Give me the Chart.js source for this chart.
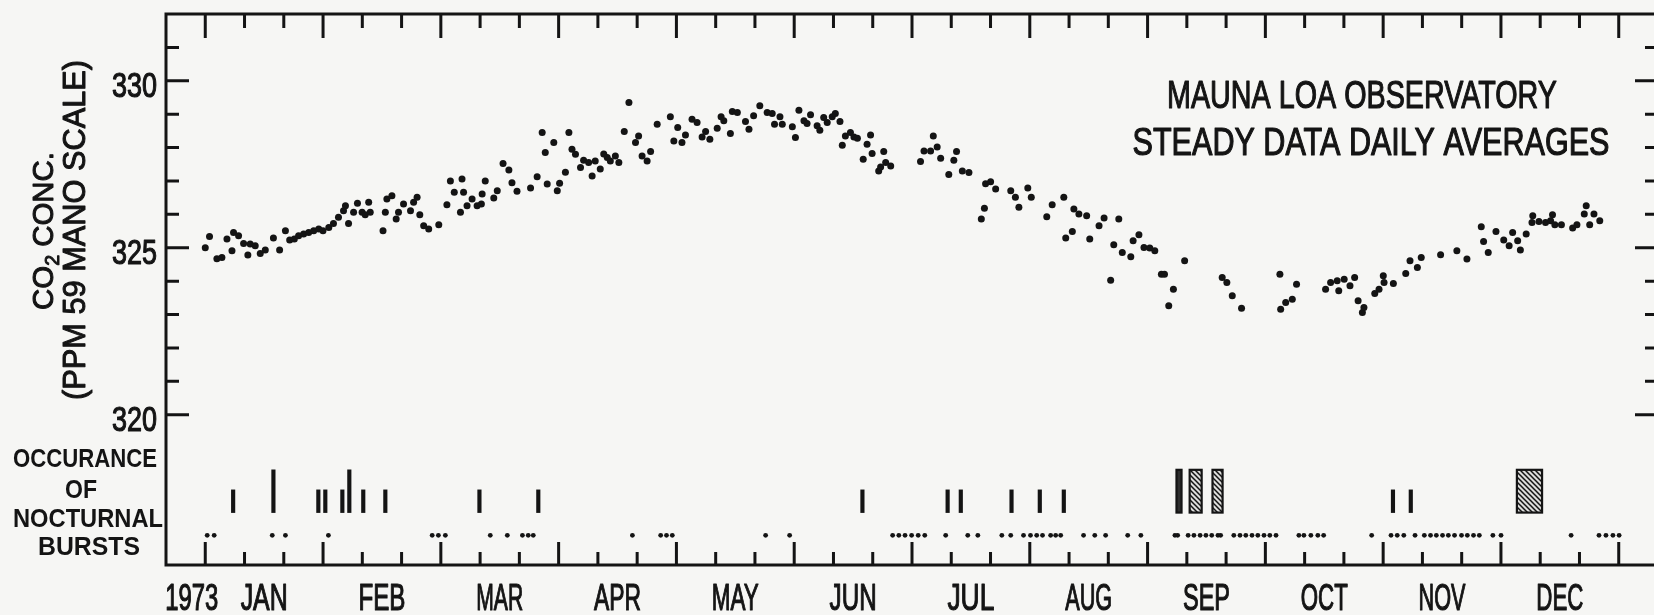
<!DOCTYPE html>
<html>
<head>
<meta charset="utf-8">
<title>Mauna Loa Observatory - steady data daily averages 1973</title>
<script src="https://cdn.jsdelivr.net/npm/chart.js@4.4.1/dist/chart.umd.min.js"></script>
<style>
  html, body { margin: 0; padding: 0; background: #f6f6f4; overflow: hidden; }
  canvas { display: block; }
</style>
</head>
<body>
<canvas id="co2-chart" width="1664" height="615"></canvas>
<script>
// ---- data (day of year, ppm) ----
const months = ["JAN", "FEB", "MAR", "APR", "MAY", "JUN", "JUL", "AUG", "SEP", "OCT", "NOV", "DEC"];
const yearLabel = "1973";
const yTickLabels = ["320", "325", "330"];
const titleLines = ["MAUNA LOA OBSERVATORY", "STEADY DATA DAILY AVERAGES"];
const burstLabel = ["OCCURANCE", "OF", "NOCTURNAL", "BURSTS"];

const obsDay = [
  0.0, 1.1, 3.0, 4.3, 5.6, 6.9, 7.3, 8.6, 9.9, 11.0, 11.6, 12.9, 14.2, 15.5, 17.6, 19.2,
  20.7, 21.8, 23.0, 24.1, 25.4, 26.7, 28.0, 29.3, 30.4, 31.9, 33.1, 34.4, 35.7, 36.2, 37.0, 38.3,
  39.3, 40.5, 41.3, 42.2, 42.6, 45.9, 46.5, 46.9, 48.2, 49.3, 49.9, 51.2, 53.0, 53.8, 54.7, 55.4,
  56.4, 57.7, 60.3, 62.4, 63.3, 64.3, 65.9, 66.3, 66.7, 67.6, 68.9, 70.2, 71.3, 71.5, 72.3, 74.5,
  75.4, 76.9, 78.4, 79.2, 80.5, 84.0, 85.7, 87.0, 87.8, 88.3, 90.0, 90.9, 91.5, 93.0, 93.9, 94.7,
  95.6, 96.9, 97.7, 99.0, 99.9, 100.7, 102.0, 102.9, 103.8, 104.6, 105.9, 106.8, 108.2, 109.4, 111.1, 111.9,
  112.8, 114.1, 115.0, 116.7, 120.1, 121.0, 122.0, 123.1, 124.0, 125.7, 127.0, 128.3, 129.2, 130.3, 132.2, 133.2,
  133.9, 135.6, 136.1, 137.4, 139.5, 140.4, 141.6, 143.2, 145.1, 146.4, 147.0, 148.4, 149.0, 151.6, 152.4, 153.3,
  154.6, 155.4, 156.3, 158.0, 158.7, 159.7, 160.6, 161.9, 162.7, 163.9, 164.5, 165.3, 166.6, 167.5, 168.4, 169.9,
  170.9, 171.8, 172.2, 173.9, 174.4, 175.2, 175.7, 177.0, 184.7, 185.6, 187.3, 188.0, 189.0, 189.9, 192.0, 193.3,
  194.0, 195.5, 197.2, 200.4, 201.2, 201.5, 202.8, 204.1, 208.0, 209.2, 210.1, 212.4, 213.3, 217.3, 218.7, 221.7,
  222.2, 223.9, 224.3, 225.6, 227.6, 228.4, 230.8, 232.1, 233.8, 234.6, 235.9, 236.8, 239.0, 239.6, 241.1, 242.4,
  243.9, 245.2, 246.9, 247.7, 248.8, 250.0, 252.9, 262.6, 263.8, 265.2, 267.6, 277.5, 277.7, 279.0, 280.7, 281.8,
  289.3, 290.6, 292.3, 292.7, 294.1, 295.6, 296.8, 297.7, 298.8, 299.2, 302.0, 303.1, 304.2, 304.4, 306.8, 310.0,
  311.1, 313.0, 314.0, 319.0, 323.2, 325.8, 329.5, 330.1, 331.3, 333.3, 335.3, 336.7, 337.6, 338.9, 339.6, 341.1,
  342.8, 342.6, 344.4, 346.1, 347.9, 347.4, 348.5, 350.2, 353.1, 354.2, 356.1, 356.6, 357.5, 358.6, 360.1
];
const co2 = [
  325.00, 325.34, 324.67, 324.71, 325.26, 324.91, 325.46, 325.36, 325.13, 324.78, 325.11, 325.06, 324.83, 324.93, 325.29, 324.93,
  325.51, 325.23, 325.26, 325.36, 325.41, 325.46, 325.51, 325.56, 325.51, 325.61, 325.73, 325.91, 326.11, 326.26, 325.73, 326.06,
  326.33, 326.06, 325.99, 326.36, 326.06, 325.51, 326.06, 326.46, 326.56, 325.86, 326.06, 326.31, 326.11, 326.36, 326.51, 325.99,
  325.66, 325.56, 325.69, 326.29, 327.00, 326.66, 326.06, 327.06, 326.66, 326.26, 326.46, 326.26, 326.31, 326.61, 327.00, 326.49,
  326.71, 327.52, 327.33, 326.95, 326.69, 326.79, 327.13, 328.45, 327.85, 326.91, 328.15, 326.71, 326.93, 327.26, 328.45, 327.95,
  327.80, 327.40, 327.62, 327.55, 327.15, 327.60, 327.36, 327.81, 327.70, 327.60, 327.75, 327.55, 328.48, 329.35, 328.15, 328.35,
  327.75, 327.60, 327.88, 328.70, 328.92, 328.20, 328.60, 328.15, 328.38, 328.85, 328.75, 328.32, 328.48, 328.25, 328.58, 328.92,
  328.80, 328.42, 329.08, 329.05, 328.78, 328.55, 328.95, 329.25, 329.05, 329.02, 328.70, 328.92, 328.70, 328.62, 328.30, 329.12,
  328.80, 328.72, 328.98, 328.65, 328.52, 328.90, 328.75, 328.92, 329.02, 328.78, 328.07, 328.35, 328.45, 328.32, 328.28, 327.65,
  328.10, 328.38, 327.82, 327.30, 327.42, 327.88, 327.55, 327.45, 327.58, 327.90, 327.90, 328.35, 328.02, 327.68, 327.19, 327.62,
  327.88, 327.30, 327.25, 325.86, 326.18, 326.92, 326.98, 326.76, 326.71, 326.51, 326.21, 326.79, 326.51, 325.93, 326.29, 326.51,
  325.29, 325.49, 326.16, 326.01, 325.96, 325.26, 325.66, 325.89, 324.03, 325.09, 325.86, 324.86, 324.73, 325.21, 325.39, 325.01,
  324.99, 324.91, 324.21, 324.21, 323.26, 323.76, 324.61, 324.11, 323.96, 323.56, 323.19, 324.21, 323.16, 323.36, 323.46, 323.91,
  323.76, 323.96, 324.01, 323.71, 324.06, 323.86, 324.11, 323.41, 323.06, 323.21, 323.63, 323.76, 324.16, 323.96, 323.93, 324.23,
  324.61, 324.41, 324.71, 324.79, 324.91, 324.66, 325.63, 325.19, 324.86, 325.49, 325.23, 325.06, 325.46, 325.21, 324.93, 325.41,
  325.96, 325.76, 325.79, 325.76, 325.99, 325.81, 325.69, 325.69, 325.59, 325.69, 326.01, 326.26, 325.69, 326.01, 325.81
];

// nocturnal bursts
const shortBurstDays = [7.2, 29.2, 31.0, 35.4, 40.8, 46.5, 70.8, 86.0, 169.7, 191.7, 195.1, 208.2, 215.5, 221.7, 306.7, 311.3];
const longBurstDays = [17.6, 37.2];
const burstDotDays = [
  0.5, 2.3, 17.3, 20.7, 31.8, 58.6, 60.2, 62.0, 73.6, 78.0, 81.9, 83.4, 84.7, 110.3, 117.6, 119.1,
  120.6, 144.7, 150.9, 177.5, 179.1, 180.7, 182.4, 184.1, 185.8, 191.2, 196.9, 199.5, 205.7, 208.0, 211.3, 213.1,
  214.7, 216.2, 218.3, 219.6, 220.9, 226.8, 229.7, 232.5, 238.2, 241.6, 250.4, 251.1, 253.8, 255.3, 256.9, 258.4,
  259.9, 261.5, 262.2, 265.6, 267.2, 268.7, 270.3, 271.8, 273.4, 274.9, 276.5, 282.4, 283.7, 285.5, 287.3, 288.8,
  301.2, 306.2, 307.8, 309.5, 312.4, 314.8, 316.4, 317.9, 319.5, 321.0, 322.6, 324.4, 325.9, 327.5, 329.0, 332.5,
  334.6, 352.7, 359.9, 361.7, 363.5, 365.1
];
const boxStart = [250.8, 254.2, 260.1, 338.7];
const boxEnd = [252.1, 257.3, 262.7, 345.2];
const boxKind = ["stipple", "hatch", "hatch", "hatch"];

// ---- layout of the burst strip below 320 ppm (value units) ----
const BAR_BASE = 317.07;
const SHORT_TOP = 317.75;
const LONG_TOP = 318.35;
const DOT_LEVEL = 316.39;
const INK = "#141414";
const TICK_STEP = 365 / 36;

const font = (size, weight) => `${weight || ""} ${size}px "Liberation Sans", Arial, sans-serif`.trim();

// draws text parts squeezed to a given width, centred at cx
function squeeze(ctx, parts, cx, baseline, width, heavy) {
  let total = 0;
  parts.forEach((p) => {
    ctx.font = p.font;
    p.w = ctx.measureText(p.t).width;
    total += p.w;
  });
  ctx.save();
  ctx.translate(cx, baseline);
  ctx.scale(width / total, 1);
  ctx.textAlign = "left";
  ctx.textBaseline = "alphabetic";
  ctx.lineWidth = heavy || 0;
  ctx.lineJoin = "round";
  let x = -total / 2;
  parts.forEach((p) => {
    ctx.font = p.font;
    ctx.fillText(p.t, x, p.dy || 0);
    if (heavy) ctx.strokeText(p.t, x, p.dy || 0);
    x += p.w;
  });
  ctx.restore();
}

function hatchPattern(ctx) {
  const c = document.createElement("canvas");
  c.width = 5;
  c.height = 5;
  const g = c.getContext("2d");
  g.fillStyle = "#dcdcda";
  g.fillRect(0, 0, 5, 5);
  g.strokeStyle = INK;
  g.lineWidth = 1.5;
  g.beginPath();
  g.moveTo(0, 0); g.lineTo(5, 5);
  g.moveTo(-1, 4); g.lineTo(1, 6);
  g.moveTo(4, -1); g.lineTo(6, 1);
  g.stroke();
  return ctx.createPattern(c, "repeat");
}

const paperAxes = {
  id: "paperAxes",
  afterDatasetsDraw(chart) {
    const { ctx, scales: { x, y } } = chart;
    const pat = hatchPattern(ctx);
    ctx.save();
    boxStart.forEach((s, i) => {
      const l = x.getPixelForValue(s);
      const r = x.getPixelForValue(boxEnd[i]);
      const t = y.getPixelForValue(LONG_TOP);
      const b = y.getPixelForValue(BAR_BASE);
      ctx.fillStyle = boxKind[i] === "stipple" ? "#2e2e2e" : pat;
      ctx.fillRect(l, t, r - l, b - t);
      ctx.lineWidth = 2.2;
      ctx.strokeStyle = INK;
      ctx.strokeRect(l, t, r - l, b - t);
    });
    ctx.restore();
  },
  afterDraw(chart) {
    const { ctx, chartArea: a, scales: { x, y } } = chart;
    ctx.save();
    ctx.strokeStyle = INK;
    ctx.fillStyle = INK;
    ctx.lineWidth = 3;
    ctx.strokeRect(a.left, a.top, a.right - a.left, a.bottom - a.top);

    ctx.beginPath();
    for (let k = 0; k <= 36; k++) {
      const px = x.getPixelForValue(k * TICK_STEP);
      const big = k % 3 === 0;
      ctx.moveTo(px, a.bottom);
      ctx.lineTo(px, a.bottom - (big ? 23 : 13));
      ctx.moveTo(px, a.top);
      ctx.lineTo(px, a.top + (big ? 24 : 14));
    }
    for (let v = 320; v <= 331; v++) {
      const py = y.getPixelForValue(v);
      const len = v % 5 === 0 ? 23 : 13;
      ctx.moveTo(a.left, py);
      ctx.lineTo(a.left + len, py);
      ctx.moveTo(a.right, py);
      ctx.lineTo(a.right - len, py);
    }
    ctx.stroke();

    // tick labels
    yTickLabels.forEach((lab) => {
      squeeze(ctx, [{ t: lab, font: font(35) }], 134.5, y.getPixelForValue(Number(lab)) + 16, 45, 1.2);
    });
    months.forEach((m, i) => {
      squeeze(ctx, [{ t: m, font: font(37) }], x.getPixelForValue((i + 0.5) * 365 / 12), 610, 47, 1.2);
    });
    squeeze(ctx, [{ t: yearLabel, font: font(37) }], x.getPixelForValue(-3.5), 610, 53, 1.2);

    // axis title, rotated
    ctx.save();
    ctx.translate(53, 231);
    ctx.rotate(-Math.PI / 2);
    squeeze(ctx, [
      { t: "CO", font: font(30) },
      { t: "2", font: font(20), dy: 6 },
      { t: " CONC.", font: font(30) }
    ], 0, 0, 158, 1);
    ctx.restore();
    ctx.save();
    ctx.translate(85, 230);
    ctx.rotate(-Math.PI / 2);
    squeeze(ctx, [{ t: "(PPM 59 MANO SCALE)", font: font(31) }], 0, 0, 340, 1);
    ctx.restore();

    // burst strip labels
    const bl = [[85, 467, 144], [81, 498, 32], [88, 527, 150], [89, 555, 102]];
    burstLabel.forEach((t, i) => {
      squeeze(ctx, [{ t, font: font(26, "bold") }], bl[i][0], bl[i][1], bl[i][2]);
    });

    // title inside the plot
    squeeze(ctx, [{ t: titleLines[0], font: font(39) }], 1362, 108, 390, 1.2);
    squeeze(ctx, [{ t: titleLines[1], font: font(39) }], 1371, 155, 477, 1.2);
    ctx.restore();
  }
};

const canvas = document.getElementById("co2-chart");
const ctx = canvas.getContext("2d");

new Chart(ctx, {
  type: "scatter",
  data: {
    datasets: [
      {
        label: "Daily average",
        data: obsDay.map((d, i) => ({ x: d, y: co2[i] })),
        pointRadius: 3.5,
        pointBackgroundColor: INK,
        pointBorderWidth: 0
      },
      {
        label: "Burst days",
        data: burstDotDays.map((d) => ({ x: d, y: DOT_LEVEL })),
        pointRadius: 2.4,
        pointBackgroundColor: INK,
        pointBorderWidth: 0
      },
      {
        type: "bar",
        label: "Short bursts",
        data: shortBurstDays.map((d) => ({ x: d, y: [BAR_BASE, SHORT_TOP] })),
        backgroundColor: INK,
        barThickness: 3.5,
        grouped: false
      },
      {
        type: "bar",
        label: "Long bursts",
        data: longBurstDays.map((d) => ({ x: d, y: [BAR_BASE, LONG_TOP] })),
        backgroundColor: INK,
        barThickness: 3.5,
        grouped: false
      }
    ]
  },
  options: {
    responsive: false,
    animation: false,
    events: [],
    layout: { padding: { left: 166, top: 14, right: 6, bottom: 50 } },
    scales: {
      // the bar datasets would otherwise pull in offset: true for x
      x: { type: "linear", min: -TICK_STEP, max: 365 + TICK_STEP, offset: false, grid: { offset: false }, display: false },
      y: { type: "linear", min: 315.5, max: 332, beginAtZero: false, display: false }
    },
    plugins: {
      legend: { display: false },
      tooltip: { enabled: false }
    }
  },
  plugins: [paperAxes]
});
</script>
</body>
</html>
